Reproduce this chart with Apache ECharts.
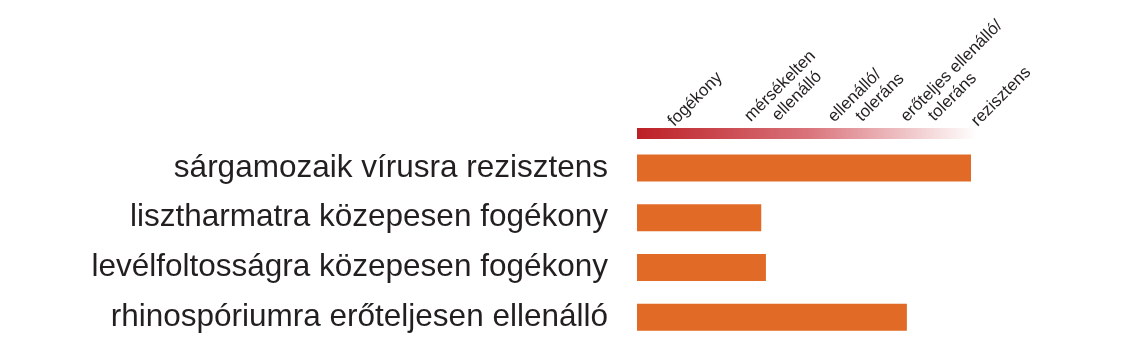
<!DOCTYPE html>
<html><head><meta charset="utf-8">
<script src="https://cdn.jsdelivr.net/npm/echarts@6/dist/echarts.min.js"></script>
<style>html,body{margin:0;padding:0;background:#fff}#c{width:1132px;height:361px}</style>
</head><body><div id="c"></div>
<script>
var categories = ['sárgamozaik vírusra rezisztens','lisztharmatra közepesen fogékony','levélfoltosságra közepesen fogékony','rhinospóriumra erőteljesen ellenálló'];
var values = [5.0, 1.86, 1.93, 4.04];
var levelLabels = [['fogékony'],['mérsékelten','ellenálló'],['ellenálló/','toleráns'],['erőteljes ellenálló/','toleráns'],['rezisztens']];
var scaleMax = 5;

// label nudges (layout only): [top, left] padding in rotated frame
var labelPad = [[0,0],[13,4],[25,9],[20,7],[0,0]];

var chart = echarts.init(document.getElementById('c'), null, {renderer:'canvas'});
var font = '"Liberation Sans", Arial, sans-serif';
chart.setOption({
  animation:false,
  grid:[
    {left:637, width:334, top:143, height:199},
    {left:633, width:379, top:128, height:11}
  ],
  xAxis:[
    {type:'value', gridIndex:0, min:0, max:scaleMax, show:false},
    {type:'category', gridIndex:1, position:'top',
     data:levelLabels.map(function(l,i){return {value:String(i), textStyle:{padding:[labelPad[i][0],0,0,labelPad[i][1]]}};}),
     boundaryGap:true, axisLine:{show:false}, axisTick:{show:false}, splitLine:{show:false},
     axisLabel:{rotate:45, margin:9, interval:0, color:'#231f20', fontFamily:font, fontSize:17, lineHeight:19,
       formatter:function(v){var l=levelLabels[+v]; return l.map(function(s,j){return j===0?'{a|'+s+'}':'{b|'+s+'}';}).join('\n');},
       rich:{a:{fontSize:17,lineHeight:19,fontFamily:font,color:'#231f20'},b:{fontSize:17,lineHeight:19,fontFamily:font,color:'#231f20',padding:[0,0,0,20]}}
     }}
  ],
  yAxis:[
    {type:'category', gridIndex:0, data:categories, inverse:true, axisLine:{show:false}, axisTick:{show:false},
     axisLabel:{color:'#231f20', fontFamily:font, fontSize:31.5, margin:29}},
    {type:'value', gridIndex:1, show:false}
  ],
  graphic:[{type:'rect', left:637, top:128, shape:{width:340, height:11}, silent:true,
    style:{fill:new echarts.graphic.LinearGradient(0,0,1,0,[{offset:0,color:'#bc2026'},{offset:0.5,color:'#d9737a'},{offset:1,color:'#ffffff'}])}}],
  series:[{type:'bar', xAxisIndex:0, yAxisIndex:0, data:values, barWidth:27, itemStyle:{color:'#e06a26'}}]
});
</script></body></html>
